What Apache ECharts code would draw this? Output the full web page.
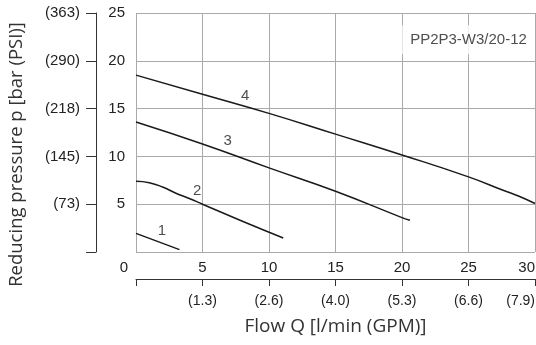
<!DOCTYPE html>
<html>
<head>
<meta charset="utf-8">
<script src="https://cdn.jsdelivr.net/npm/echarts@6/dist/echarts.min.js"></script>
<style>html,body{margin:0;padding:0;background:#fff;}#c{width:536px;height:345px;}</style>
</head>
<body>
<div id="c"></div>
<script>
var xTicks = ['0', '5', '10', '15', '20', '25', '30'];
var gpmLabels = ['', '(1.3)', '(2.6)', '(4.0)', '(5.3)', '(6.6)', '(7.9)'];
var barTicks = ['', '5', '10', '15', '20', '25'];
var psiLabels = ['', '(73)', '(145)', '(218)', '(290)', '(363)'];

var curve1 = [[0, 1.95], [3.27, 0.25]];
var curve2 = [[0, 7.4], [1, 7.25], [2, 6.8], [3, 6.15], [4, 5.6], [5, 5.0], [8, 3.22], [11.07, 1.47]];
var curve3 = [[0, 13.6], [5, 11.3], [10, 8.8], [15, 6.36], [20, 3.6], [20.6, 3.32]];
var curve4 = [[0, 18.5], [5, 16.5], [10, 14.5], [15, 12.33], [20, 10.15], [25, 7.86], [27.6, 6.46], [28.8, 5.83], [30, 5.07]];
var curveLabels = [[1.95, 2.2, '1'], [4.6, 6.4, '2'], [6.9, 11.6, '3'], [8.2, 16.3, '4']];
var modelLabel = [[25.0, 22.2, 'PP2P3-W3/20-12']];

var numFont = 'Liberation Sans, Arial, sans-serif';
var nameFont = 'Open Sans, sans-serif';
var txt = '#222';

var chart = echarts.init(document.getElementById('c'), null, {renderer: 'canvas'});
function lineSeries(d) {
  return {type: 'line', data: d, smooth: true, showSymbol: false, symbol: 'none',
    lineStyle: {color: '#1a1a1a', width: 1.5}, silent: true, z: 3};
}
chart.setOption({
  animation: false,
  backgroundColor: '#fff',
  grid: {left: 136, right: 1, top: 13, bottom: 93, containLabel: false, outerBoundsMode: 'none'},
  xAxis: [{
    type: 'value', min: 0, max: 30, interval: 5, position: 'bottom', offset: 27,
    axisLine: {show: true, onZero: false, lineStyle: {color: '#333', width: 1}},
    axisTick: {show: true, inside: false, length: 7, lineStyle: {color: '#333'}},
    axisLabel: {inside: true, margin: 4, color: txt, fontFamily: numFont, fontSize: 15,
      alignMaxLabel: 'right', alignMinLabel: 'right',
      formatter: function (v) { var s = xTicks[Math.round(v / 5)]; return v === 0 ? '{z|' + s + '}' : s; },
      rich: {z: {padding: [0, 8, 0, 0], fontFamily: numFont, fontSize: 15, color: txt}}},
    splitLine: {show: true, lineStyle: {color: '#aaa', width: 1}}
  }, {
    type: 'value', min: 0, max: 30, interval: 5, position: 'bottom', offset: 27,
    axisLine: {show: false, onZero: false}, axisTick: {show: false}, splitLine: {show: false},
    axisLabel: {margin: 15, color: txt, fontFamily: numFont, fontSize: 14,
      alignMaxLabel: 'right',
      formatter: function (v) { return gpmLabels[Math.round(v / 5)]; }},
    name: 'Flow Q [l/min (GPM)]', nameLocation: 'middle', nameGap: 38,
    nameTextStyle: {color: '#333', fontFamily: nameFont, fontSize: 19}
  }],
  yAxis: [{
    type: 'value', min: 0, max: 25, interval: 5, position: 'left',
    axisLine: {show: false, onZero: false}, axisTick: {show: false},
    axisLabel: {margin: 11, color: txt, fontFamily: numFont, fontSize: 15,
      formatter: function (v) { return barTicks[Math.round(v / 5)]; }},
    splitLine: {show: true, lineStyle: {color: '#aaa', width: 1}}
  }, {
    type: 'value', min: 0, max: 25, interval: 5, position: 'left', offset: 40,
    axisLine: {show: true, onZero: false, lineStyle: {color: '#333', width: 1}},
    axisTick: {show: true, inside: false, length: 10, lineStyle: {color: '#333'}},
    axisLabel: {margin: 16, color: txt, fontFamily: numFont, fontSize: 15,
      formatter: function (v) { return psiLabels[Math.round(v / 5)]; }},
    splitLine: {show: false},
    name: 'Reducing pressure p [bar (PSI)]', nameLocation: 'middle', nameGap: 70, nameRotate: 90,
    nameTextStyle: {color: '#333', fontFamily: nameFont, fontSize: 18.5, padding: [0, 44, 0, 0]}
  }],
  series: [
    lineSeries(curve1), lineSeries(curve2), lineSeries(curve3), lineSeries(curve4),
    {type: 'scatter', data: curveLabels, symbolSize: 0, silent: true, z: 4,
      label: {show: true, position: 'inside', color: txt, fontFamily: numFont, fontSize: 15,
        formatter: function (p) { return p.value[2]; }}},
    {type: 'scatter', data: modelLabel, symbolSize: 0, silent: true, z: 5,
      label: {show: true, position: 'inside', color: txt, fontFamily: numFont, fontSize: 15,
        backgroundColor: '#fff', padding: [7, 8],
        formatter: function (p) { return p.value[2]; }}}
  ]
});
</script>
</body>
</html>
